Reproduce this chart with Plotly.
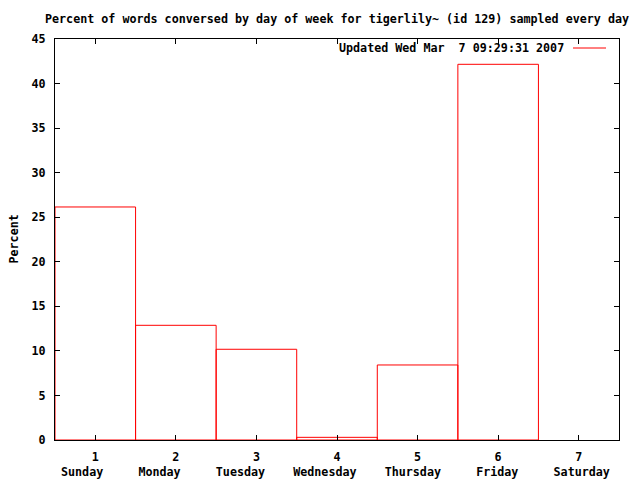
import plotly.graph_objects as go

days = [1, 2, 3, 4, 5, 6, 7]
day_names = ["Sunday", "Monday", "Tuesday", "Wednesday", "Thursday", "Friday", "Saturday"]
percent = [26.15, 12.87, 10.18, 0.30, 8.42, 42.16, 0.0]
y_ticks = [0, 5, 10, 15, 20, 25, 30, 35, 40, 45]
title = "Percent of words conversed by day of week for tigerlily~ (id 129) sampled every day"
legend_text = "Updated Wed Mar  7 09:29:31 2007"
gaps = [5, 5, 4, 4, 5, 5]

FONT = "DejaVu Sans Mono"
FS = 11.7
tfont = dict(family=FONT, size=FS, color="black", weight="bold")

day_string = ""
for i, n in enumerate(day_names):
    day_string += n
    if i < len(gaps):
        day_string += " " * gaps[i]

# zero-height boxes lie on the axis line, which covers them in the original
bar_y = [v if v > 0 else None for v in percent]

fig = go.Figure()
fig.add_trace(go.Bar(
    x=days, y=bar_y, width=1,
    marker=dict(color="rgba(0,0,0,0)", line=dict(color="#ff0000", width=1)),
    showlegend=False, hoverinfo="skip",
))

axis_common = dict(
    showline=True, linecolor="black", linewidth=1, mirror="allticks",
    ticks="inside", ticklen=5, tickcolor="black", tickwidth=1,
    showgrid=False, zeroline=False, layer="above traces",
    tickfont=tfont,
)

fig.update_xaxes(range=[0.5, 7.5], tickvals=days, ticktext=[str(d) for d in days],
                 ticklabelstandoff=6, **axis_common)
fig.update_yaxes(range=[0, 45], tickvals=y_ticks, ticktext=[str(v) for v in y_ticks],
                 ticklabelstandoff=6, **axis_common)

fig.update_layout(
    width=640, height=480,
    margin=dict(l=55, r=21, t=39, b=40, autoexpand=False),
    paper_bgcolor="white", plot_bgcolor="white",
    font=dict(family=FONT, size=FS, color="black"),
    title=dict(text=title, x=0.5, xref="paper", xanchor="center",
               y=1 - 19.3 / 480, yanchor="middle", font=tfont),
    annotations=[
        dict(text=day_string.replace(" ", "&nbsp;"), xref="paper", yref="paper",
             x=0.5, y=(440 - 472) / 401, xanchor="center", yanchor="middle",
             xshift=-2, showarrow=False, font=tfont),
        dict(text="Percent", xref="paper", yref="paper",
             x=(13 - 55) / 564, y=0.5, xanchor="center", yanchor="middle",
             textangle=-90, showarrow=False, font=tfont),
        dict(text=legend_text.replace(" ", "&nbsp;"), xref="paper", yref="paper",
             x=(566 - 55) / 564, y=(440 - 48) / 401, xanchor="right", yanchor="middle",
             showarrow=False, font=tfont),
    ],
    shapes=[
        dict(type="line", xref="paper", yref="paper",
             x0=(573 - 55) / 564, x1=(606 - 55) / 564,
             y0=(440 - 48) / 401, y1=(440 - 48) / 401,
             line=dict(color="#ff0000", width=1)),
    ],
)

fig.write_html("out.html", config={"displayModeBar": False},
               post_script="document.body.style.margin='0';")
